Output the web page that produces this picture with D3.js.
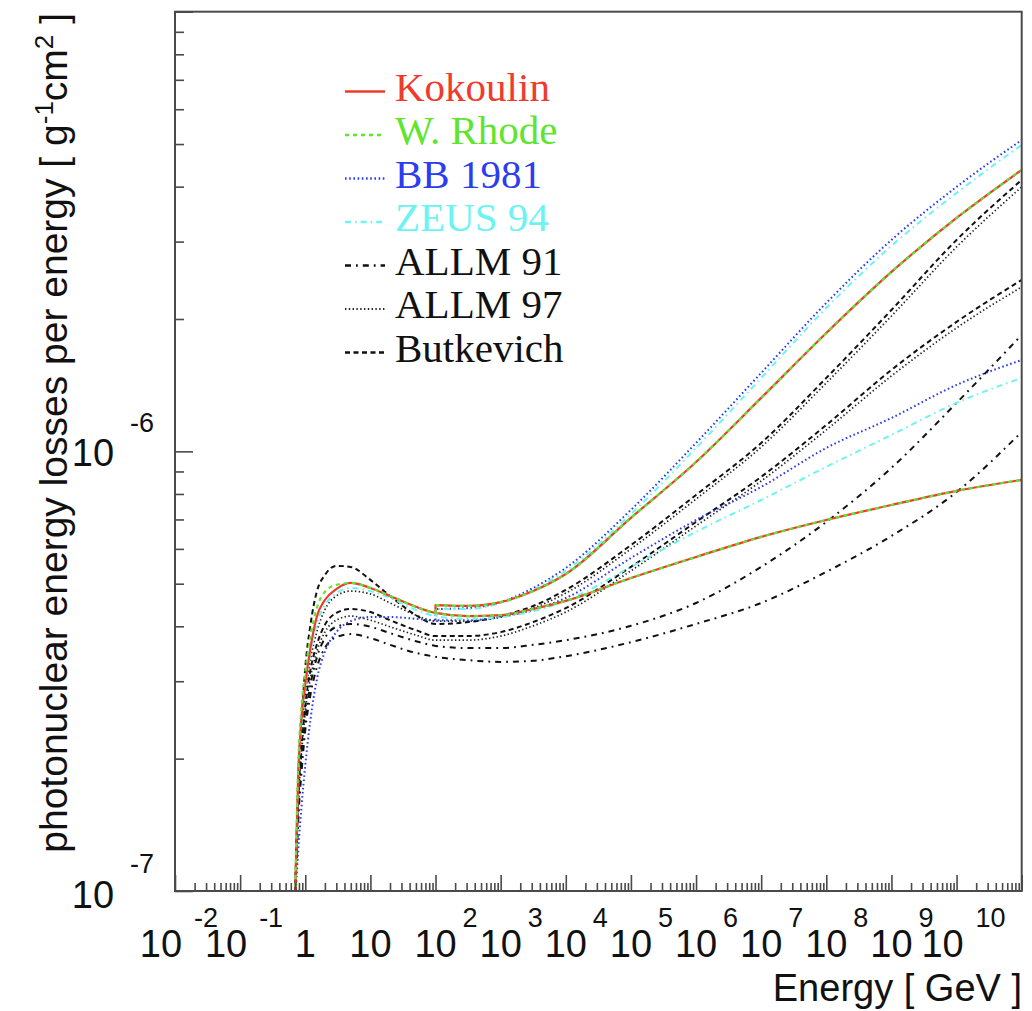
<!DOCTYPE html>
<html>
<head>
<meta charset="utf-8">
<script src="https://cdn.jsdelivr.net/npm/d3@7"></script>
<style>
  body { margin: 0; background: #fff; }
  svg { display: block; }
</style>
</head>
<body>
<svg id="chart" width="1032" height="1011"></svg>
<script>
// ---- data: photonuclear energy loss per energy [g^-1 cm^2] vs muon energy [GeV] ----
const energyLow  = [0.69, 0.78, 0.88, 1.0, 1.2, 1.5, 2, 3, 5, 10, 20, 50, 100];
const energyHigh = [1e2, 3.16e2, 1e3, 3.16e3, 1e4, 1e5, 1e6, 1e7, 1e8, 1e9, 1e10, 1e11];

// parametrizations with a hard component switched on above 100 GeV: low part, soft-only and soft+hard
const kokoulinLow  = [0.9e-7, 1.85e-7, 2.51e-7, 2.96e-7, 3.57e-7, 4.20e-7, 4.59e-7, 4.86e-7, 5.02e-7, 4.89e-7, 4.69e-7, 4.43e-7, 4.29e-7];
const kokoulinSoft = [4.29e-7, 4.22e-7, 4.24e-7, 4.38e-7, 4.57e-7, 5.15e-7, 5.75e-7, 6.39e-7, 6.98e-7, 7.55e-7, 8.13e-7, 8.61e-7];
const kokoulinHard = [4.47e-7, 4.45e-7, 4.54e-7, 4.81e-7, 5.26e-7, 7.06e-7, 9.46e-7, 1.323e-6, 1.859e-6, 2.559e-6, 3.396e-6, 4.367e-6];

const rhodeLow  = [0.9e-7, 1.93e-7, 2.65e-7, 3.15e-7, 3.80e-7, 4.40e-7, 4.79e-7, 4.97e-7, 5.02e-7, 4.89e-7, 4.69e-7, 4.43e-7, 4.29e-7];
const rhodeSoft = [4.29e-7, 4.22e-7, 4.24e-7, 4.38e-7, 4.57e-7, 5.15e-7, 5.75e-7, 6.39e-7, 6.98e-7, 7.55e-7, 8.13e-7, 8.61e-7];
const rhodeHard = [4.47e-7, 4.45e-7, 4.54e-7, 4.81e-7, 5.26e-7, 7.06e-7, 9.46e-7, 1.323e-6, 1.859e-6, 2.559e-6, 3.396e-6, 4.367e-6];

const bbLow  = [0.9e-7, 1.24e-7, 1.57e-7, 1.93e-7, 2.45e-7, 3.02e-7, 3.50e-7, 3.88e-7, 4.11e-7, 4.20e-7, 4.20e-7, 4.16e-7, 4.13e-7];
const bbSoft = [4.13e-7, 4.13e-7, 4.20e-7, 4.36e-7, 4.64e-7, 5.72e-7, 6.98e-7, 8.30e-7, 1.018e-6, 1.191e-6, 1.416e-6, 1.614e-6];
const bbHard = [4.38e-7, 4.40e-7, 4.54e-7, 4.89e-7, 5.43e-7, 7.36e-7, 1.045e-6, 1.508e-6, 2.176e-6, 3.026e-6, 3.995e-6, 5.109e-6];

const zeusLow  = [0.9e-7, 1.74e-7, 2.42e-7, 2.87e-7, 3.46e-7, 4.05e-7, 4.47e-7, 4.76e-7, 4.89e-7, 4.81e-7, 4.64e-7, 4.36e-7, 4.22e-7];
const zeusSoft = [4.22e-7, 4.16e-7, 4.20e-7, 4.33e-7, 4.57e-7, 5.46e-7, 6.56e-7, 7.75e-7, 9.22e-7, 1.090e-6, 1.289e-6, 1.469e-6];
const zeusHard = [4.38e-7, 4.38e-7, 4.52e-7, 4.84e-7, 5.35e-7, 7.20e-7, 1.018e-6, 1.469e-6, 2.119e-6, 2.933e-6, 3.870e-6, 4.977e-6];

// structure-function parametrizations, two shadowing variants each, over the full energy range
const energyFull = energyLow.concat(energyHigh.slice(1));
const allm91A = [0.9e-7, 1.53e-7, 1.99e-7, 2.45e-7, 2.94e-7, 3.39e-7, 3.76e-7, 3.99e-7, 4.05e-7, 3.99e-7, 3.86e-7, 3.70e-7, 3.61e-7,
                 3.57e-7, 3.57e-7, 3.63e-7, 3.72e-7, 4.01e-7, 4.52e-7, 5.46e-7, 6.91e-7, 9.17e-7, 1.289e-6, 1.840e-6];
const allm91B = [0.9e-7, 1.45e-7, 1.88e-7, 2.32e-7, 2.79e-7, 3.22e-7, 3.57e-7, 3.78e-7, 3.84e-7, 3.76e-7, 3.63e-7, 3.48e-7, 3.41e-7,
                 3.35e-7, 3.32e-7, 3.34e-7, 3.42e-7, 3.68e-7, 4.05e-7, 4.52e-7, 5.32e-7, 6.42e-7, 8.08e-7, 1.107e-6];
const allm97A = [0.9e-7, 1.70e-7, 2.32e-7, 2.79e-7, 3.35e-7, 3.88e-7, 4.36e-7, 4.69e-7, 4.81e-7, 4.74e-7, 4.52e-7, 4.24e-7, 4.11e-7,
                 4.11e-7, 4.20e-7, 4.40e-7, 4.76e-7, 6.00e-7, 7.79e-7, 1.023e-6, 1.431e-6, 2.032e-6, 2.917e-6, 3.995e-6];
const allm97B = [0.9e-7, 1.57e-7, 2.07e-7, 2.55e-7, 3.05e-7, 3.50e-7, 3.88e-7, 4.13e-7, 4.22e-7, 4.13e-7, 3.99e-7, 3.82e-7, 3.72e-7,
                 3.72e-7, 3.80e-7, 4.01e-7, 4.31e-7, 5.35e-7, 6.77e-7, 8.56e-7, 1.119e-6, 1.484e-6, 1.909e-6, 2.365e-6];
const butkevichA = [0.9e-7, 1.79e-7, 2.45e-7, 3.22e-7, 4.03e-7, 4.79e-7, 5.23e-7, 5.49e-7, 5.46e-7, 5.10e-7, 4.69e-7, 4.24e-7, 4.05e-7,
                    4.09e-7, 4.22e-7, 4.45e-7, 4.84e-7, 6.12e-7, 7.96e-7, 1.045e-6, 1.469e-6, 2.097e-6, 3.026e-6, 4.144e-6];
const butkevichB = [0.9e-7, 1.61e-7, 2.15e-7, 2.65e-7, 3.18e-7, 3.63e-7, 4.03e-7, 4.29e-7, 4.38e-7, 4.31e-7, 4.13e-7, 3.92e-7, 3.80e-7,
                    3.80e-7, 3.88e-7, 4.09e-7, 4.40e-7, 5.46e-7, 6.91e-7, 8.75e-7, 1.148e-6, 1.532e-6, 1.970e-6, 2.454e-6];

// axis ticks and labels
const xDecades = [-2, -1, 0, 1, 2, 3, 4, 5, 6, 7, 8, 9, 10];
const yDecades = [-7, -6];
const legendLabels = ["Kokoulin", "W. Rhode", "BB 1981", "ZEUS 94", "ALLM 91", "ALLM 97", "Butkevich"];

// ---- layout ----
const plot = { left: 175, right: 1021.7, top: 11.7, bottom: 891 };
const svg = d3.select("#chart");

const x = d3.scaleLog().domain([1e-2, 1e11]).range([plot.left, plot.right]);
const y = d3.scaleLog().domain([1e-7, 1e-5]).range([plot.bottom, plot.top]);

const styles = {
  "Kokoulin":  { color: "#f03a2b", dash: null,          width: 2.2 },
  "W. Rhode":  { color: "#5fe52f", dash: "4,4",         width: 2.2 },
  "BB 1981":   { color: "#2c3cef", dash: "1.6,2.6",     width: 2.0 },
  "ZEUS 94":   { color: "#6cf3f3", dash: "6,4,1.6,4",   width: 2.0 },
  "ALLM 91":   { color: "#111111", dash: "6,5,1.8,5",   width: 2.0 },
  "ALLM 97":   { color: "#222222", dash: "1.4,2.4",     width: 1.7 },
  "Butkevich": { color: "#111111", dash: "5,3.5",       width: 2.0 }
};

svg.append("defs").append("clipPath").attr("id", "plotClip")
  .append("rect")
  .attr("x", plot.left).attr("y", plot.top)
  .attr("width", plot.right - plot.left).attr("height", plot.bottom - plot.top);

const line = d3.line()
  .x(d => x(d[0]))
  .y(d => y(d[1]))
  .curve(d3.curveMonotoneX);

const zip = (es, vs) => es.map((e, i) => [e, vs[i]]);

const curves = svg.append("g").attr("clip-path", "url(#plotClip)").attr("fill", "none");

function drawPath(d, name) {
  const s = styles[name];
  curves.append("path")
    .attr("d", d)
    .attr("stroke", s.color)
    .attr("stroke-width", s.width)
    .attr("stroke-dasharray", s.dash)
    .attr("stroke-linejoin", "round");
}

// full-range models
[["ALLM 91", [allm91A, allm91B]],
 ["ALLM 97", [allm97A, allm97B]],
 ["Butkevich", [butkevichA, butkevichB]]].forEach(([name, sets]) => {
  sets.forEach(vals => drawPath(line(zip(energyFull, vals)), name));
});

// models with a hard component: soft branch continues the low-energy curve,
// hard branch starts with a step at 100 GeV
[["BB 1981", bbLow, bbSoft, bbHard],
 ["ZEUS 94", zeusLow, zeusSoft, zeusHard],
 ["Kokoulin", kokoulinLow, kokoulinSoft, kokoulinHard],
 ["W. Rhode", rhodeLow, rhodeSoft, rhodeHard]].forEach(([name, low, soft, hard]) => {
  const softPts = zip(energyLow, low).concat(zip(energyHigh, soft).slice(1));
  drawPath(line(softPts), name);
  const e0 = energyLow[energyLow.length - 1];
  const start = `M${x(e0)},${y(low[low.length - 1])}L`;
  drawPath(line(zip(energyHigh, hard)).replace(/^M/, start), name);
});

// ---- frame ----
svg.append("rect")
  .attr("x", plot.left).attr("y", plot.top)
  .attr("width", plot.right - plot.left).attr("height", plot.bottom - plot.top)
  .attr("fill", "none").attr("stroke", "#4a4a4a").attr("stroke-width", 2);

// ---- ticks (inward) ----
const minorX = [];
for (let d = -2; d <= 10; d++) for (let m = 2; m <= 9; m++) minorX.push(m * Math.pow(10, d));
const majorX = d3.range(-2, 12).map(d => Math.pow(10, d));

function tickAxis(axis, tv, size, transform) {
  const g = svg.append("g").attr("transform", transform)
    .call(axis.tickValues(tv).tickSize(size).tickFormat(""));
  g.select(".domain").remove();
  g.selectAll(".tick line").attr("stroke", "#4a4a4a").attr("stroke-width", 1.6);
}
tickAxis(d3.axisBottom(x), minorX, -8, `translate(0,${plot.bottom})`);
tickAxis(d3.axisBottom(x), majorX, -16, `translate(0,${plot.bottom})`);

const minorY = [];
for (let d = -7; d <= -6; d++) for (let m = 2; m <= 9; m++) minorY.push(m * Math.pow(10, d));
tickAxis(d3.axisLeft(y), minorY, -9, `translate(${plot.left},0)`);
tickAxis(d3.axisLeft(y), [1e-7, 1e-6, 1e-5], -18, `translate(${plot.left},0)`);

// ---- tick labels ----
const labelFont = "'Liberation Sans', Arial, Helvetica, sans-serif";
const labels = svg.append("g").attr("font-family", labelFont).attr("fill", "#111");

xDecades.forEach(d => {
  const tx = x(Math.pow(10, d));
  if (d === 0 || d === 1) {
    labels.append("text").attr("x", tx).attr("y", 957)
      .attr("text-anchor", "middle").attr("font-size", 38)
      .text(d === 0 ? "1" : "10");
    return;
  }
  const exp = String(d);
  const wide = exp.length > 1;
  labels.append("text").attr("x", tx - (wide ? 14 : 0)).attr("y", 957)
    .attr("text-anchor", "middle").attr("font-size", 38).text("10");
  labels.append("text").attr("x", tx + (wide ? 19 : 27)).attr("y", 927)
    .attr("font-size", 27).text(exp);
});

yDecades.forEach(d => {
  const ty = y(Math.pow(10, d));
  labels.append("text").attr("x", 93).attr("y", d === -7 ? 908 : ty + 15)
    .attr("text-anchor", "middle").attr("font-size", 38).text("10");
  labels.append("text").attr("x", 130).attr("y", d === -7 ? 873 : ty - 19)
    .attr("font-size", 27).text(String(d));
});

// ---- axis titles ----
svg.append("text")
  .attr("x", 1022).attr("y", 1001)
  .attr("text-anchor", "end")
  .attr("font-family", labelFont).attr("font-size", 38).attr("fill", "#111")
  .text("Energy [ GeV ]");

const yt = svg.append("text")
  .attr("transform", "translate(67,13) rotate(-90)")
  .attr("text-anchor", "end")
  .attr("font-family", labelFont).attr("font-size", 39).attr("fill", "#111");
yt.append("tspan").text("photonuclear energy losses per energy [ g");
yt.append("tspan").attr("font-size", 26).attr("dy", -14).text("-1");
yt.append("tspan").attr("dy", 14).text("cm");
yt.append("tspan").attr("font-size", 26).attr("dy", -14).text("2");
yt.append("tspan").attr("dy", 14).text(" ]");

// ---- legend ----
const legend = svg.append("g").attr("font-family", "'Liberation Serif', 'Times New Roman', serif");
legendLabels.forEach((name, i) => {
  const s = styles[name];
  const base = 100.5 + i * 43.5;
  legend.append("line")
    .attr("x1", 345).attr("x2", 385)
    .attr("y1", base - 9).attr("y2", base - 9)
    .attr("stroke", s.color).attr("stroke-width", s.width + 0.3)
    .attr("stroke-dasharray", s.dash);
  legend.append("text")
    .attr("x", 395).attr("y", base)
    .attr("font-size", 41)
    .attr("fill", i < 4 ? s.color : "#111")
    .text(name);
});
</script>
</body>
</html>
